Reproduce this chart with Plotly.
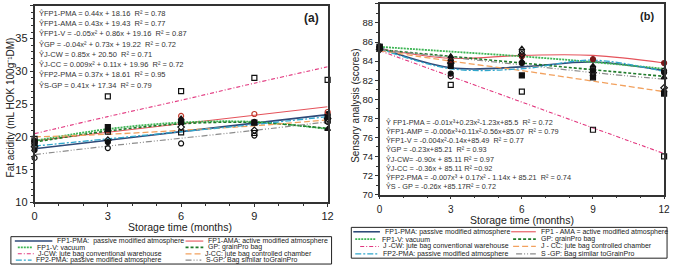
import plotly.graph_objects as go

W, H = 677, 272

# ---------------- data ----------------
months = [0, 3, 6, 9, 12]
month_ticks = [0, 3, 6, 9, 12]
fat_ticks = [10, 15, 20, 25, 30, 35, 40]
sens_ticks = [70, 72, 74, 76, 78, 80, 82, 84, 86, 88, 90]

series = ["FP1-PMA", "FP1-AMA", "FP1-V", "GP", "J-CW", "J-CC", "FP2-PMA", "S-GP"]

# (a) fat acidity, observed points
fat_obs_fp1_pma = [18.0, 19.2, 22.5, 22.3, 23.5]
fat_obs_fp1_ama = [19.3, 21.0, 23.2, 23.5, 23.8]
fat_obs_fp1_v = [19.5, 21.0, 22.8, 22.0, 21.2]
fat_obs_gp = [19.0, 21.5, 22.3, 22.2, 23.0]
fat_obs_j_cw = [19.7, 26.2, 27.0, 29.0, 28.7]
fat_obs_j_cc = [19.3, 20.8, 20.7, 20.6, 22.5]
fat_obs_fp2_pma = [18.5, 19.5, 21.5, 21.0, 22.8]
fat_obs_s_gp = [16.8, 18.3, 19.0, 20.2, 22.3]

# (a) fat acidity, trend lines
fat_fit_fp1_pma = [18.2, 19.5, 20.8, 22.1, 23.4]
fat_fit_fp1_ama = [19.4, 20.7, 22.0, 23.3, 24.6]
fat_fit_fp1_v = [19.4, 21.2, 22.2, 22.3, 21.2]
fat_fit_gp = [19.2, 20.9, 22.0, 22.2, 21.3]
fat_fit_j_cw = [20.5, 23.1, 25.6, 28.2, 30.7]
fat_fit_j_cc = [20.0, 20.4, 21.0, 21.7, 22.6]
fat_fit_fp2_pma = [18.6, 19.7, 20.8, 21.9, 23.1]
fat_fit_s_gp = [17.3, 18.6, 19.8, 21.0, 22.3]

# (b) sensory analysis, observed points
sens_obs_fp1_pma = [85.5, 82.7, 83.8, 83.0, 82.8]
sens_obs_fp1_ama = [85.4, 84.0, 84.5, 84.2, 83.8]
sens_obs_fp1_v = [85.6, 84.5, 84.0, 83.5, 82.3]
sens_obs_gp = [85.5, 83.5, 82.5, 82.3, 80.6]
sens_obs_j_cw = [85.5, 81.5, 80.8, 76.8, 74.0]
sens_obs_j_cc = [85.3, 84.2, 85.3, 82.6, 80.9]
sens_obs_fp2_pma = [85.4, 82.4, 85.0, 83.3, 83.0]
sens_obs_s_gp = [85.2, 83.8, 84.7, 82.8, 81.2]

# (b) sensory analysis, trend lines
sens_fit_fp1_pma = [85.4, 83.3, 83.4, 83.9, 83.0]
sens_fit_fp1_ama = [85.3, 84.3, 84.6, 84.6, 83.8]
sens_fit_fp1_v = [85.5, 85.0, 84.5, 83.9, 83.2]
sens_fit_gp = [85.2, 84.5, 83.8, 83.1, 82.4]
sens_fit_j_cw = [85.1, 82.4, 79.7, 77.0, 74.3]
sens_fit_j_cc = [85.1, 84.0, 83.0, 81.9, 80.8]
sens_fit_fp2_pma = [85.3, 83.2, 83.2, 84.1, 82.9]
sens_fit_s_gp = [85.2, 84.4, 83.6, 82.8, 82.1]

eq_a = [
    "ŶFP1-PMA = 0.44x + 18.16  R² = 0.78",
    "ŶFP1-AMA = 0.43x + 19.43  R² = 0.77",
    "ŶFP1-V = -0.05x² + 0.86x + 19.16  R² = 0.87",
    "ŶGP = -0.04x² + 0.73x + 19.22  R² = 0.72",
    "ŶJ-CW = 0.85x + 20.50  R² = 0.71",
    "ŶJ-CC = 0.009x² + 0.11x + 19.96  R² = 0.72",
    "ŶFP2-PMA = 0.37x + 18.61  R² = 0.95",
    "ŶS-GP = 0.41x + 17.34  R² = 0.79",
]
eq_b = [
    "Ŷ FP1-PMA = -0.01x³+0.23x²-1.23x+85.5  R² = 0.72",
    "ŶFP1-AMP = -0.006x³+0.11x²-0.56x+85.07  R² = 0.79",
    "ŶFP1-V = -0.004x²-0.14x+85.49  R² = 0.77",
    "ŶGP = -0.23x+85.21  R² = 0.93",
    "ŶJ-CW= -0.90x + 85.11 R² = 0.97",
    "ŶJ-CC = -0.36x + 85.11 R² =0.92",
    "ŶFP2-PMA = -0.007x³ + 0.17x² - 1.14x + 85.21  R² = 0.74",
    "ŶS - GP = -0.26x +85.17R² = 0.72",
]

legend_a = [
    "FP1-PMA:  passive modified atmosphere", "FP1-AMA: active modified atmosphere",
    "FP1-V: vacuum", "GP: grainPro bag",
    "J-CW: jute bag conventional warehouse", "J-CC: jute bag controlled chamber",
    "FP2-PMA: passive modified atmosphere", "S-GP: Bag similar toGrainPro",
]
legend_b = [
    "FP1-PMA: passive modified atmosphere", "FP1 - AMA = active modified atmosphere",
    "FP1-V: vacuum", "GP: grainPro bag",
    "J -CW: jute bag conventional warehouse", "J - CC: jute bag controlled chamber",
    "FP2-PMA: passive modified atmosphere", "S -GP: Bag similar toGrainPro",
]

fat_obs = [fat_obs_fp1_pma, fat_obs_fp1_ama, fat_obs_fp1_v, fat_obs_gp,
           fat_obs_j_cw, fat_obs_j_cc, fat_obs_fp2_pma, fat_obs_s_gp]
fat_fit = [fat_fit_fp1_pma, fat_fit_fp1_ama, fat_fit_fp1_v, fat_fit_gp,
           fat_fit_j_cw, fat_fit_j_cc, fat_fit_fp2_pma, fat_fit_s_gp]
sens_obs = [sens_obs_fp1_pma, sens_obs_fp1_ama, sens_obs_fp1_v, sens_obs_gp,
            sens_obs_j_cw, sens_obs_j_cc, sens_obs_fp2_pma, sens_obs_s_gp]
sens_fit = [sens_fit_fp1_pma, sens_fit_fp1_ama, sens_fit_fp1_v, sens_fit_gp,
            sens_fit_j_cw, sens_fit_j_cc, sens_fit_fp2_pma, sens_fit_s_gp]

# ---------------- styles ----------------
line_colors = ["#2E4A78", "#E5535B", "#3DB554", "#1F7A2A",
               "#E2367E", "#F2A15E", "#2FA6CC", "#8C8C8C"]
line_dashes = ["solid", "solid", "2px,1px", "3px,2px",
               "4px,2px,1px,2px", "6px,3px", "6px,2px,2px,2px", "6px,2px,1px,2px,1px,2px"]
line_widths = [1.6, 1.1, 1.8, 1.6, 1.1, 1.3, 1.3, 1.2]
symbols_a = ["circle", "circle-open", "triangle-up", "square",
             "square-open", "square-open", "diamond-open", "circle-open"]
symbols_b = ["circle", "circle", "triangle-up", "square",
             "square-open", "triangle-up-open", "circle-open", "diamond-open"]
marker_colors_a = ["#111", "#C0392B", "#111", "#111", "#111", "#111", "#111", "#111"]
marker_colors_b = ["#111", "#7A1A1A", "#111", "#111", "#111", "#111", "#111", "#111"]

FONT = "Liberation Sans, Arial, sans-serif"


def px(x):
    return x / W


def py(y):
    return 1 - y / H


fig = go.Figure()

for i, name in enumerate(series):
    fig.add_trace(go.Scatter(
        x=months, y=fat_fit[i], mode="lines", name=name, showlegend=False,
        line=dict(color=line_colors[i], dash=line_dashes[i], width=line_widths[i], shape="spline"),
        xaxis="x", yaxis="y", hoverinfo="skip"))
for i, name in enumerate(series):
    fig.add_trace(go.Scatter(
        x=months, y=fat_obs[i], mode="markers", name=name, showlegend=False, cliponaxis=False,
        marker=dict(symbol=symbols_a[i], size=5, color=marker_colors_a[i],
                    line=dict(color=marker_colors_a[i], width=1.2)),
        xaxis="x", yaxis="y"))

for i, name in enumerate(series):
    fig.add_trace(go.Scatter(
        x=months, y=sens_fit[i], mode="lines", name=name, showlegend=False,
        line=dict(color=line_colors[i], dash=line_dashes[i], width=line_widths[i], shape="spline"),
        xaxis="x2", yaxis="y2", hoverinfo="skip"))
for i, name in enumerate(series):
    fig.add_trace(go.Scatter(
        x=months, y=sens_obs[i], mode="markers", name=name, showlegend=False, cliponaxis=False,
        marker=dict(symbol=symbols_b[i], size=5, color=marker_colors_b[i],
                    line=dict(color=marker_colors_b[i], width=1.2)),
        xaxis="x2", yaxis="y2"))

axis_common = dict(showline=True, linecolor="#333", linewidth=1.5, mirror=True,
                   showgrid=False, zeroline=False, ticks="outside", tickcolor="#333",
                   ticklen=3, tickwidth=1)

fig.update_layout(
    width=W, height=H, margin=dict(l=0, r=0, t=0, b=0),
    paper_bgcolor="white", plot_bgcolor="white", showlegend=False,
    font=dict(family=FONT, color="#222"),
    xaxis=dict(domain=[px(32), px(329)], range=[0, 12], tickvals=month_ticks,
               tickfont=dict(size=11), anchor="y",
               minor=dict(dtick=1, ticks="outside", ticklen=2, tickcolor="#333"),
               **axis_common),
    yaxis=dict(domain=[py(207), py(6)], range=[10, 40], tickvals=fat_ticks,
               tickfont=dict(size=11), anchor="x",
               minor=dict(dtick=1, ticks="outside", ticklen=2, tickcolor="#333"),
               **axis_common),
    xaxis2=dict(domain=[px(381.7), px(670)], range=[0, 12], tickvals=month_ticks,
                tickfont=dict(size=10), anchor="y2", ticklabelstandoff=2,
                minor=dict(dtick=1, ticks="outside", ticklen=2, tickcolor="#333"),
                **axis_common),
    yaxis2=dict(domain=[py(199), py(4)], range=[70, 90], tickvals=sens_ticks,
                tickfont=dict(size=9.5), anchor="x2",
                minor=dict(dtick=1, ticks="outside", ticklen=2, tickcolor="#333"),
                **axis_common),
)

annotations = []
# axis titles
annotations.append(dict(xref="paper", yref="paper", x=px(179), y=py(224.5), borderpad=0,
                        text="Storage time (months)", showarrow=False,
                        xanchor="center", yanchor="top", font=dict(size=10.5, family=FONT, color="#222")))
annotations.append(dict(xref="paper", yref="paper", x=px(526), y=py(217.5), borderpad=0,
                        text="Storage time (months)", showarrow=False,
                        xanchor="center", yanchor="top", font=dict(size=10.5, family=FONT, color="#222")))
annotations.append(dict(xref="paper", yref="paper", x=px(8), y=py(110),
                        text="Fat acidity (mL HOK 100g⁻¹DM)", showarrow=False, textangle=-90,
                        xanchor="center", yanchor="middle", font=dict(size=10, family=FONT, color="#222")))
annotations.append(dict(xref="paper", yref="paper", x=px(357), y=py(108),
                        text="Sensory analysis (scores)", showarrow=False, textangle=-90,
                        xanchor="center", yanchor="middle", font=dict(size=10, family=FONT, color="#222")))
# equations
for k, t in enumerate(eq_a):
    annotations.append(dict(xref="paper", yref="paper", x=px(34), y=py(13.5 + k * 10.5),
                            text=t, showarrow=False, xanchor="left", yanchor="middle",
                            font=dict(size=7.5, family=FONT, color="#333")))
for k, t in enumerate(eq_b):
    annotations.append(dict(xref="paper", yref="paper", x=px(386), y=py(125 + k * 9.4),
                            text=t, showarrow=False, xanchor="left", yanchor="middle",
                            font=dict(size=7.3, family=FONT, color="#333")))
annotations.append(dict(xref="paper", yref="paper", x=px(313), y=py(18), text="<b>(a)</b>",
                        showarrow=False, xanchor="center", yanchor="middle",
                        font=dict(size=12, family=FONT, color="#222")))
annotations.append(dict(xref="paper", yref="paper", x=px(653), y=py(16), text="<b>(b)</b>",
                        showarrow=False, xanchor="center", yanchor="middle",
                        font=dict(size=11, family=FONT, color="#222")))

shapes = []
LEG_FONT = 7
# legend (a)
leg_a_pos = [(12, 50, 53), (185, 203, 206), (15, 30, 32), (185, 203, 206),
             (15, 32, 33), (185, 201, 203), (13, 29, 31), (185, 201, 204)]
leg_a_rows = [246.5, 253, 259.5, 266]
shapes.append(dict(type="rect", xref="paper", yref="paper", x0=px(8), x1=px(333),
                   y0=py(270), y1=py(242), line=dict(color="#222", width=1)))
for i, lab in enumerate(legend_a):
    x0, x1, tx = leg_a_pos[i]
    yy = leg_a_rows[i // 2]
    shapes.append(dict(type="line", xref="paper", yref="paper", x0=px(x0), x1=px(x1),
                       y0=py(yy), y1=py(yy),
                       line=dict(color=line_colors[i], dash=line_dashes[i], width=line_widths[i])))
    annotations.append(dict(xref="paper", yref="paper", x=px(tx), y=py(yy), text=lab,
                            showarrow=False, xanchor="left", yanchor="middle",
                            font=dict(size=LEG_FONT, family=FONT, color="#222")))
# legend (b)
leg_b_pos = [(355, 382, 385), (515, 540, 543), (357, 378, 382), (517, 540, 543),
             (362, 381, 383), (517, 540, 543), (357, 381, 383), (520, 540, 543)]
leg_b_rows = [237, 244.5, 252, 259.5]
shapes.append(dict(type="rect", xref="paper", yref="paper", x0=px(353), x1=px(673),
                   y0=py(264), y1=py(232.5), line=dict(color="#222", width=1)))
for i, lab in enumerate(legend_b):
    x0, x1, tx = leg_b_pos[i]
    yy = leg_b_rows[i // 2]
    shapes.append(dict(type="line", xref="paper", yref="paper", x0=px(x0), x1=px(x1),
                       y0=py(yy), y1=py(yy),
                       line=dict(color=line_colors[i], dash=line_dashes[i], width=line_widths[i])))
    annotations.append(dict(xref="paper", yref="paper", x=px(tx), y=py(yy), text=lab,
                            showarrow=False, xanchor="left", yanchor="middle",
                            font=dict(size=LEG_FONT, family=FONT, color="#222")))

fig.update_layout(annotations=annotations, shapes=shapes)

# remove the default 8px page margin so the figure sits at the window's top-left corner
fig.write_html("out.html", config={"displayModeBar": False},
               post_script="document.body.style.margin='0';document.body.style.overflow='hidden';")
